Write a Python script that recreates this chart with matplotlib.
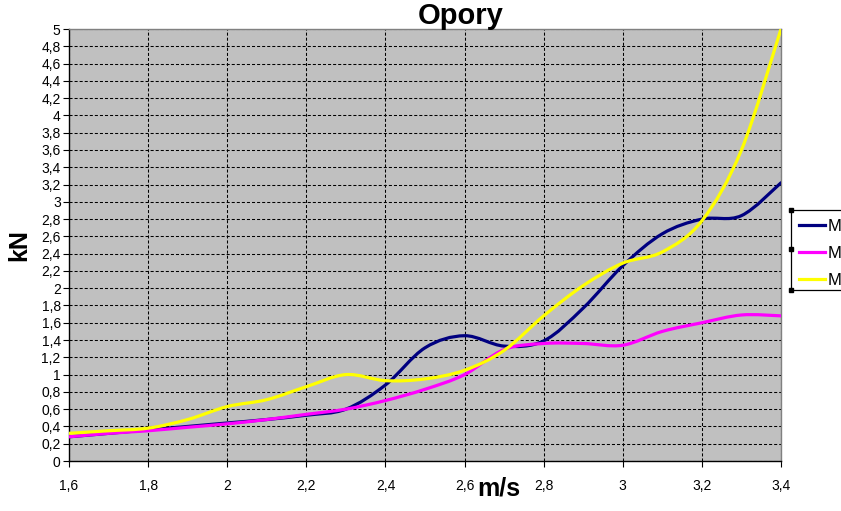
import matplotlib
matplotlib.use("Agg")
import matplotlib.pyplot as plt
from matplotlib.path import Path
from matplotlib.patches import PathPatch, Rectangle
from matplotlib.lines import Line2D
import numpy as np

plt.rcParams['font.family'] = ['Liberation Sans', 'DejaVu Sans']
plt.rcParams['lines.scale_dashes'] = False

title = "Opory"
xlabel = "m/s"
ylabel = "kN"
series_names = ["M", "M", "M"]
series_colors = ["#000080", "#FF00FF", "#FFFF00"]

speed = [1.6, 1.7, 1.8, 1.9, 2.0, 2.1, 2.2, 2.3, 2.4, 2.5,
         2.6, 2.7, 2.8, 2.9, 3.0, 3.1, 3.2, 3.3, 3.4]
navy = [0.28, 0.32, 0.36, 0.40, 0.44, 0.48, 0.53, 0.60, 0.88, 1.31,
        1.45, 1.33, 1.39, 1.77, 2.26, 2.63, 2.80, 2.84, 3.22]
magenta = [0.28, 0.32, 0.35, 0.39, 0.43, 0.48, 0.54, 0.60, 0.70, 0.83,
           1.00, 1.29, 1.36, 1.36, 1.34, 1.50, 1.60, 1.69, 1.68]
yellow = [0.32, 0.35, 0.38, 0.48, 0.63, 0.71, 0.86, 1.00, 0.93, 0.95,
          1.05, 1.28, 1.68, 2.03, 2.29, 2.42, 2.78, 3.60, 5.00]
series = [navy, magenta, yellow]

xticks = [1.6, 1.8, 2.0, 2.2, 2.4, 2.6, 2.8, 3.0, 3.2, 3.4]
yticks = [round(0.2 * i, 1) for i in range(26)]


def fmt(v):
    s = ("%.1f" % v).rstrip('0').rstrip('.')
    return s.replace('.', ',')


def smooth_path(xs, ys):
    # Excel-style smoothed line: cubic Bezier segments (Catmull-Rom control points)
    pts = np.column_stack([xs, ys]).astype(float)
    n = len(pts)
    verts = [pts[0]]
    codes = [Path.MOVETO]
    for i in range(n - 1):
        p0 = pts[i - 1] if i > 0 else pts[i]
        p1 = pts[i]
        p2 = pts[i + 1]
        p3 = pts[i + 2] if i + 2 < n else pts[i + 1]
        c1 = p1 + (p2 - p0) / 6.0
        c2 = p2 - (p3 - p1) / 6.0
        verts += [c1, c2, p2]
        codes += [Path.CURVE4] * 3
    return Path(verts, codes)


W, H = 841, 511
fig = plt.figure(figsize=(W / 100, H / 100), dpi=100)
L, R, T, B = 69, 781, 29, 461
ax = fig.add_axes([L / W, 1 - B / H, (R - L) / W, (B - T) / H])
ax.set_facecolor("#C0C0C0")
ax.set_xlim(1.6, 3.4)
ax.set_ylim(0, 5)

for s, c in zip(series, series_colors):
    patch = PathPatch(smooth_path(speed, s), facecolor='none', edgecolor=c,
                      lw=2.3, transform=ax.transData, capstyle='round',
                      joinstyle='round', zorder=3)
    ax.add_patch(patch)

ax.set_xticks(xticks)
ax.set_xticklabels([fmt(v) for v in xticks])
ax.set_yticks(yticks)
ax.set_yticklabels([fmt(v) for v in yticks])
ax.tick_params(axis='both', labelsize=10, length=4, width=0.8, direction='out',
               pad=2, colors='black')
ax.tick_params(axis='x', pad=9)
ax.grid(True, color='black', lw=0.75, linestyle=(0, (2.2, 1.45)), zorder=1)
ax.set_axisbelow(True)
for side in ['top', 'right']:
    ax.spines[side].set_color('#808080')
    ax.spines[side].set_linewidth(1.0)
for side in ['left', 'bottom']:
    ax.spines[side].set_color('black')
    ax.spines[side].set_linewidth(1.0)

fig.text(461 / W, 1 - 24 / H, title, ha='center', va='baseline',
         fontsize=21, fontweight='bold')
fig.text(19 / W, 1 - 245 / H, ylabel, ha='center', va='center', rotation=90,
         fontsize=18, fontweight='bold')
fig.text(477 / W, 1 - 496 / H, xlabel, ha='left', va='baseline',
         fontsize=18, fontweight='bold')

handles = [Line2D([0], [0], color=c, lw=2.3) for c in series_colors]
leg = fig.legend(handles, series_names, loc='upper left',
                 bbox_to_anchor=(791 / W, 1 - 211 / H),
                 bbox_transform=fig.transFigure, borderaxespad=0,
                 fontsize=12, handlelength=1.6, handletextpad=0.15,
                 labelspacing=0.72, borderpad=0.45, frameon=False)

# legend frame running off the right edge, as in the reference
fig.add_artist(Rectangle((791 / W, 1 - 290 / H), 0.2, 80 / H, fill=False,
                         edgecolor='black', lw=0.9, transform=fig.transFigure))

# selection handles on legend
for yy in (210, 249, 290):
    fig.add_artist(Line2D([791 / W], [1 - yy / H], marker='s', markersize=3.5,
                          color='black', transform=fig.transFigure))

fig.savefig("out.png", dpi=100, facecolor='white')
